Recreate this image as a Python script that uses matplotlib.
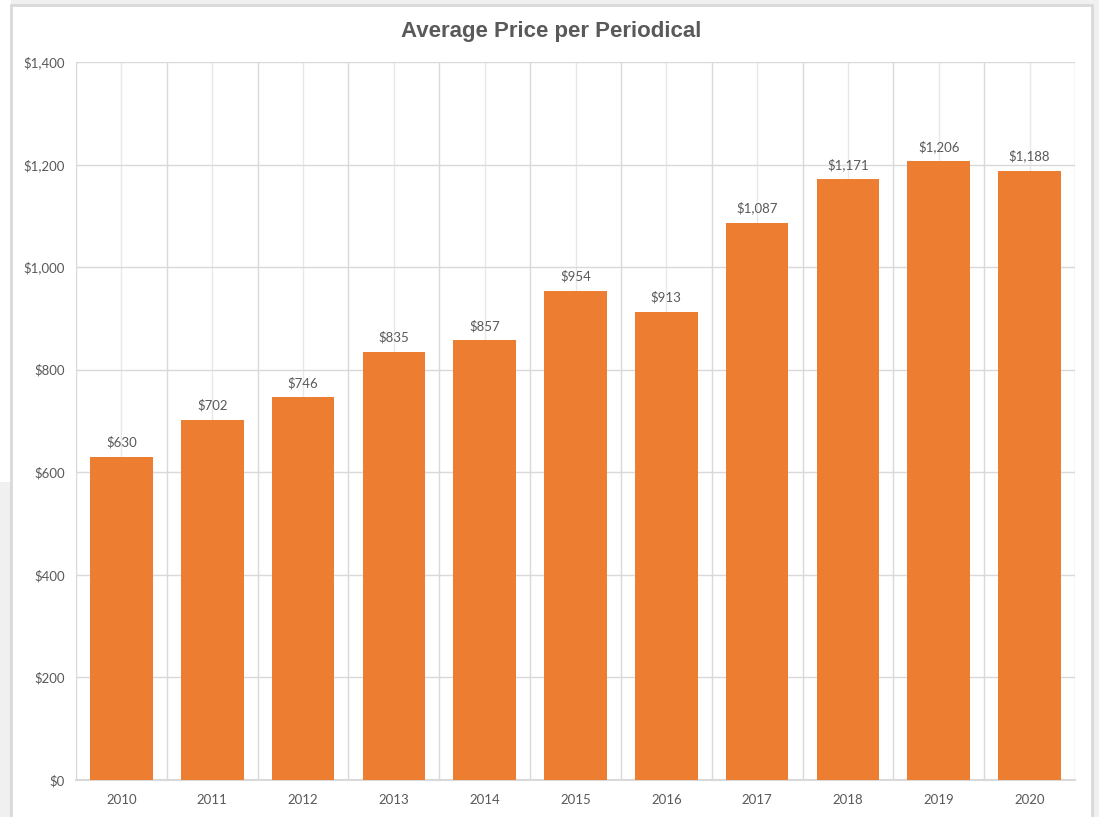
import matplotlib
matplotlib.use("Agg")
import matplotlib.pyplot as plt
from matplotlib.patches import Rectangle
from matplotlib.ticker import FuncFormatter, FixedLocator

years = ["2010", "2011", "2012", "2013", "2014", "2015", "2016",
         "2017", "2018", "2019", "2020"]
prices = [630, 702, 746, 835, 857, 954, 913, 1087, 1171, 1206, 1188]

C_BAR = "#ED7D31"
C_TEXT = "#595959"
C_GRID = "#D9D9D9"
C_BG = "#F0F0F0"

W, H = 1099, 817
fig = plt.figure(figsize=(W / 100, H / 100), dpi=100, facecolor=C_BG)

# white strip left of the chart (screenshot background), then the chart box
fig.patches.append(Rectangle((0, 1 - 482 / H), 11 / W, 482 / H,
                             transform=fig.transFigure, facecolor="white",
                             edgecolor="none", zorder=0))
fig.patches.append(Rectangle((11 / W, -0.01), (1092 - 11) / W, (H - 5) / H + 0.01,
                             transform=fig.transFigure, facecolor="white",
                             edgecolor=C_GRID, linewidth=2, zorder=0))

ax = fig.add_axes([76 / W, 1 - 780 / H, (1075 - 76) / W, (780 - 62) / H])
ax.set_zorder(2)
ax.set_facecolor("white")

x = list(range(len(years)))
ax.bar(x, prices, width=0.69, color=C_BAR, zorder=3)

for xi, p in zip(x, prices):
    ax.annotate(f"${p:,}", (xi, p), textcoords="offset points", xytext=(0, 6),
                ha="center", va="bottom", fontsize=9.5, color=C_TEXT,
                family="Lato")

ax.set_xlim(-0.5, len(years) - 0.5)
ax.set_ylim(0, 1400)
ax.set_yticks(range(0, 1401, 200))
ax.yaxis.set_major_formatter(FuncFormatter(lambda v, _: f"${v:,.0f}"))

ax.xaxis.set_major_locator(FixedLocator([i - 0.5 for i in range(len(years) + 1)]))
ax.xaxis.set_minor_locator(FixedLocator(x))
ax.set_xticklabels([], minor=False)
ax.set_xticklabels(years, minor=True)

ax.grid(True, axis="y", color=C_GRID, linewidth=1, zorder=0)
ax.grid(True, axis="x", which="major", color=C_GRID, linewidth=1, zorder=0)
ax.grid(True, axis="x", which="minor", color="#E8E8E8", linewidth=1, zorder=0)

ax.tick_params(axis="both", which="both", length=0, colors=C_TEXT, labelsize=9.5)
ax.tick_params(axis="y", pad=8)
ax.tick_params(axis="x", which="minor", pad=10)
for lab in ax.get_xticklabels(minor=True) + ax.get_yticklabels():
    lab.set_family("Lato")

for name, sp in ax.spines.items():
    sp.set_visible(name == "bottom")
ax.spines["bottom"].set_color(C_GRID)
ax.spines["bottom"].set_linewidth(1.5)

fig.text(551 / W, 1 - 31 / H, "Average Price per Periodical", ha="center",
         va="center", fontsize=16, fontweight="bold", color=C_TEXT,
         family="Liberation Sans")

fig.savefig("out.png", dpi=100, facecolor=C_BG)
